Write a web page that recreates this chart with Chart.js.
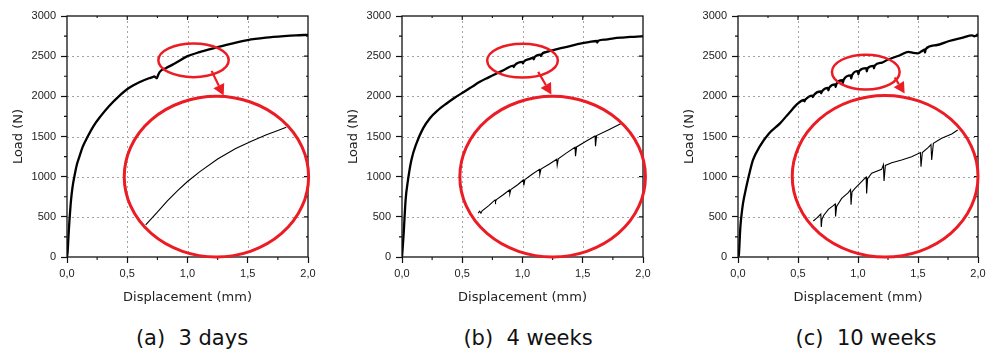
<!DOCTYPE html>
<html>
<head>
<meta charset="utf-8">
<script src="https://cdn.jsdelivr.net/npm/chart.js@4.4.0/dist/chart.umd.min.js"></script>
<style>
  html, body { margin: 0; padding: 0; background: #fff; }
  #wrap { position: relative; width: 997px; height: 356px; overflow: hidden; }
  .panel { position: absolute; top: 0; height: 305px; }
  .caption { position: absolute; top: 326px; font-family: "DejaVu Sans", sans-serif; font-size: 21px; line-height: 24px; color: #111; white-space: pre; transform: translateX(-50%); }
</style>
</head>
<body>
<div id="wrap">
  <div class="panel" style="left:0px;width:330px"><canvas id="chartA"></canvas></div>
  <div class="panel" style="left:335px;width:330px"><canvas id="chartB"></canvas></div>
  <div class="panel" style="left:671px;width:326px"><canvas id="chartC"></canvas></div>
  <div class="caption" id="capA" style="left:192px"></div>
  <div class="caption" id="capB" style="left:528px"></div>
  <div class="caption" id="capC" style="left:866px"></div>
</div>
<script>
const xTickLabels = ['0,0', '0,5', '1,0', '1,5', '2,0'];
const yTickLabels = ['0', '500', '1000', '1500', '2000', '2500', '3000'];
const xMinor = [0.25, 0.75, 1.25, 1.75];
const yMinor = [250, 750, 1250, 1750, 2250, 2750];
const captions = ['(a)  3 days', '(b)  4 weeks', '(c)  10 weeks'];

// (a) 3 days
const dispA = [0, 0.005, 0.012, 0.02, 0.03, 0.04, 0.05, 0.061, 0.08, 0.103, 0.13, 0.172, 0.22, 0.278, 0.35, 0.43, 0.51, 0.6, 0.68, 0.71, 0.725, 0.735, 0.745, 0.755, 0.77, 0.82, 0.89, 1.0, 1.1, 1.22, 1.35, 1.5, 1.65, 1.8, 1.9, 2.0];
const loadA = [0, 60, 250, 450, 650, 800, 910, 1000, 1140, 1250, 1370, 1500, 1630, 1750, 1880, 2000, 2100, 2175, 2225, 2240, 2248, 2235, 2225, 2260, 2305, 2350, 2405, 2500, 2550, 2600, 2650, 2700, 2730, 2750, 2760, 2765];
const zoomDispA = [0.653, 0.75, 0.833, 0.92, 1.0, 1.1, 1.25, 1.4, 1.53, 1.65, 1.75, 1.82];
const zoomLoadA = [401, 560, 700, 830, 940, 1060, 1220, 1350, 1440, 1520, 1575, 1614];

// (b) 4 weeks
const dispB = [0, 0.006, 0.014, 0.03, 0.05, 0.078, 0.12, 0.175, 0.23, 0.3, 0.37, 0.44, 0.51, 0.58, 0.646, 0.715, 0.785, 0.85, 0.924, 0.927, 0.935, 1.0, 1.003, 1.01, 1.062, 1.09, 1.093, 1.1, 1.15, 1.153, 1.16, 1.2, 1.27, 1.34, 1.41, 1.478, 1.55, 1.617, 1.62, 1.628, 1.69, 1.756, 1.83, 1.895, 1.95, 2.0];
const loadB = [0, 120, 298, 712, 960, 1208, 1415, 1601, 1725, 1830, 1911, 1985, 2052, 2118, 2180, 2233, 2284, 2330, 2383, 2365, 2386, 2428, 2410, 2430, 2466, 2483, 2460, 2488, 2520, 2500, 2524, 2553, 2582, 2606, 2632, 2656, 2675, 2689, 2668, 2692, 2707, 2722, 2732, 2739, 2744, 2747];
const zoomDispB = [0.632, 0.645, 0.655, 0.665, 0.72, 0.772, 0.776, 0.784, 0.84, 0.891, 0.895, 0.903, 0.96, 1.007, 1.011, 1.02, 1.08, 1.14, 1.144, 1.153, 1.22, 1.284, 1.288, 1.297, 1.36, 1.436, 1.44, 1.449, 1.52, 1.602, 1.606, 1.615, 1.712, 1.823];
const zoomLoadB = [546, 570, 545, 575, 640, 710, 690, 715, 775, 834, 790, 840, 900, 959, 890, 965, 1030, 1091, 1030, 1095, 1155, 1216, 1142, 1222, 1290, 1365, 1255, 1370, 1435, 1506, 1380, 1512, 1581, 1664];

// (c) 10 weeks
const dispC = [0, 0.008, 0.014, 0.02, 0.028, 0.042, 0.07, 0.1, 0.125, 0.18, 0.26, 0.35, 0.43, 0.5, 0.55, 0.553, 0.56, 0.62, 0.623, 0.63, 0.69, 0.693, 0.7, 0.75, 0.753, 0.76, 0.81, 0.813, 0.82, 0.87, 0.873, 0.88, 0.94, 0.943, 0.95, 1.0, 1.003, 1.01, 1.07, 1.073, 1.08, 1.13, 1.133, 1.14, 1.2, 1.25, 1.35, 1.42, 1.46, 1.5, 1.53, 1.555, 1.558, 1.565, 1.65, 1.76, 1.875, 1.95, 1.97, 2.0];
const loadC = [0, 40, 215, 380, 505, 670, 877, 1070, 1208, 1374, 1539, 1663, 1800, 1911, 1955, 1938, 1957, 2010, 1990, 2012, 2060, 2038, 2062, 2105, 2075, 2107, 2150, 2115, 2152, 2200, 2162, 2205, 2260, 2220, 2262, 2315, 2275, 2315, 2350, 2310, 2350, 2380, 2348, 2385, 2420, 2458, 2511, 2553, 2540, 2535, 2560, 2580, 2545, 2590, 2636, 2689, 2731, 2760, 2748, 2772];
const zoomDispC = [0.628, 0.66, 0.69, 0.694, 0.7, 0.715, 0.753, 0.794, 0.81, 0.813, 0.822, 0.864, 0.919, 0.938, 0.942, 0.95, 0.975, 1.044, 1.068, 1.072, 1.08, 1.114, 1.197, 1.212, 1.217, 1.228, 1.281, 1.364, 1.447, 1.52, 1.525, 1.536, 1.586, 1.608, 1.614, 1.628, 1.697, 1.781, 1.831];
const zoomLoadC = [448, 490, 535, 375, 470, 520, 593, 640, 660, 505, 630, 730, 801, 840, 650, 810, 855, 959, 995, 790, 975, 1042, 1091, 1150, 946, 1140, 1174, 1208, 1249, 1300, 1125, 1300, 1365, 1400, 1208, 1415, 1477, 1531, 1581];

// red callouts in data units: ring = [x, y, rx, ry], arrow = [x1, y1, x2, y2]
const calloutA = { ring: [1.05, 2449, 0.292, 210], big: [1.24, 1000, 0.765, 1000], arrow: [1.2, 2317, 1.3, 2010] };
const calloutB = { ring: [1.0, 2445, 0.293, 211], big: [1.25, 1000, 0.77, 1000], arrow: [1.13, 2304, 1.24, 2023] };
const calloutC = { ring: [1.065, 2302, 0.282, 217], big: [1.226, 1005, 0.774, 1005], arrow: [1.306, 2234, 1.389, 2036] };

const RED = '#ec1c24';
const GRID_X = [0.5, 1.0, 1.5];
const GRID_Y = [500, 1000, 1500, 2000, 2500];

function pts(xs, ys) {
  return xs.map((x, i) => ({ x, y: ys[i] }));
}

function ellipsePath(ctx, sx, sy, e) {
  const cx = sx.getPixelForValue(e[0]);
  const cy = sy.getPixelForValue(e[1]);
  const rx = sx.getPixelForValue(e[0] + e[2]) - cx;
  const ry = cy - sy.getPixelForValue(e[1] + e[3]);
  ctx.beginPath();
  ctx.ellipse(cx, cy, rx, ry, 0, 0, Math.PI * 2);
}

// dotted grid under the curves; frame, minor ticks and red callouts on top
function overlay(callout) {
  return {
    id: 'overlay',
    beforeDatasetsDraw(chart) {
      const { ctx, chartArea: a } = chart;
      const sx = chart.scales.x, sy = chart.scales.y;
      ctx.save();
      ctx.strokeStyle = '#a4a4a4';
      ctx.lineWidth = 1;
      ctx.setLineDash([2, 3]);
      ctx.beginPath();
      GRID_X.forEach(v => {
        const px = Math.round(sx.getPixelForValue(v)) + 0.5;
        ctx.moveTo(px, a.top); ctx.lineTo(px, a.bottom);
      });
      GRID_Y.forEach(v => {
        const py = Math.round(sy.getPixelForValue(v)) + 0.5;
        ctx.moveTo(a.left, py); ctx.lineTo(a.right, py);
      });
      ctx.stroke();
      ctx.restore();
    },
    afterDraw(chart) {
      const { ctx, chartArea: a } = chart;
      const sx = chart.scales.x, sy = chart.scales.y;
      ctx.save();
      ctx.strokeStyle = '#111';
      ctx.lineWidth = 1.3;
      ctx.strokeRect(a.left, a.top, a.right - a.left, a.bottom - a.top);

      ctx.lineWidth = 1.1;
      ctx.beginPath();
      xMinor.forEach(v => {
        const px = sx.getPixelForValue(v);
        ctx.moveTo(px, a.bottom); ctx.lineTo(px, a.bottom + 3);
        ctx.moveTo(px, a.top); ctx.lineTo(px, a.top + 2);
      });
      GRID_X.forEach(v => {
        const px = sx.getPixelForValue(v);
        ctx.moveTo(px, a.top); ctx.lineTo(px, a.top + 4);
      });
      yMinor.forEach(v => {
        const py = sy.getPixelForValue(v);
        ctx.moveTo(a.left - 3, py); ctx.lineTo(a.left, py);
        ctx.moveTo(a.right, py); ctx.lineTo(a.right - 2, py);
      });
      GRID_Y.forEach(v => {
        const py = sy.getPixelForValue(v);
        ctx.moveTo(a.right, py); ctx.lineTo(a.right - 4, py);
      });
      ctx.stroke();

      ctx.strokeStyle = RED;
      ctx.fillStyle = RED;
      ctx.lineWidth = 2.5;
      ellipsePath(ctx, sx, sy, callout.ring);
      ctx.stroke();
      ctx.lineWidth = 3;
      ellipsePath(ctx, sx, sy, callout.big);
      ctx.stroke();

      const r = callout.arrow;
      const x1 = sx.getPixelForValue(r[0]), y1 = sy.getPixelForValue(r[1]);
      const x2 = sx.getPixelForValue(r[2]), y2 = sy.getPixelForValue(r[3]);
      const ang = Math.atan2(y2 - y1, x2 - x1);
      const head = 11, half = 6;
      const bx = x2 - head * Math.cos(ang), by = y2 - head * Math.sin(ang);
      ctx.lineWidth = 2.2;
      ctx.beginPath();
      ctx.moveTo(x1, y1); ctx.lineTo(bx, by);
      ctx.stroke();
      ctx.beginPath();
      ctx.moveTo(x2, y2);
      ctx.lineTo(bx + half * Math.sin(ang), by - half * Math.cos(ang));
      ctx.lineTo(bx - half * Math.sin(ang), by + half * Math.cos(ang));
      ctx.closePath();
      ctx.fill();
      ctx.restore();
    }
  };
}

const tickFont = { family: '"Liberation Sans", Arial, sans-serif', size: 11 };
const titleFont = { family: '"DejaVu Sans", sans-serif', size: 13 };

function makePanel(id, main, zoom, callout, rightPad) {
  new Chart(document.getElementById(id), {
    type: 'line',
    data: {
      datasets: [
        { data: main, borderColor: '#000', borderWidth: 2.3, pointRadius: 0, cubicInterpolationMode: 'monotone' },
        { data: zoom, borderColor: '#000', borderWidth: 1.1, pointRadius: 0, tension: 0 }
      ]
    },
    options: {
      responsive: true,
      maintainAspectRatio: false,
      animation: false,
      layout: { padding: { left: 0, top: 16, right: rightPad, bottom: 0 } },
      plugins: { legend: { display: false }, tooltip: { enabled: false } },
      scales: {
        x: {
          type: 'linear', min: 0, max: 2,
          ticks: { stepSize: 0.5, autoSkip: false, maxRotation: 0, padding: 4, color: '#222', font: tickFont,
                   callback: (v, i) => xTickLabels[i] },
          grid: { drawOnChartArea: false, tickColor: '#111', tickLength: 6, tickWidth: 1.2 },
          border: { display: false },
          title: { display: true, text: 'Displacement (mm)', color: '#222', font: titleFont, padding: { top: 0, bottom: 0 } },
          afterFit: s => { s.height = 48; }
        },
        y: {
          type: 'linear', min: 0, max: 3000,
          ticks: { stepSize: 500, autoSkip: false, padding: 5, color: '#222', font: tickFont,
                   callback: (v, i) => yTickLabels[i] },
          grid: { drawOnChartArea: false, tickColor: '#111', tickLength: 6, tickWidth: 1.2 },
          border: { display: false },
          title: { display: true, text: 'Load (N)', color: '#222', font: titleFont, padding: { top: 11, bottom: 0 } },
          afterFit: s => { s.width = 67; }
        }
      }
    },
    plugins: [overlay(callout)]
  });
}

makePanel('chartA', pts(dispA, loadA), pts(zoomDispA, zoomLoadA), calloutA, 22);
makePanel('chartB', pts(dispB, loadB), pts(zoomDispB, zoomLoadB), calloutB, 22);
makePanel('chartC', pts(dispC, loadC), pts(zoomDispC, zoomLoadC), calloutC, 19);

document.getElementById('capA').textContent = captions[0];
document.getElementById('capB').textContent = captions[1];
document.getElementById('capC').textContent = captions[2];
</script>
</body>
</html>
